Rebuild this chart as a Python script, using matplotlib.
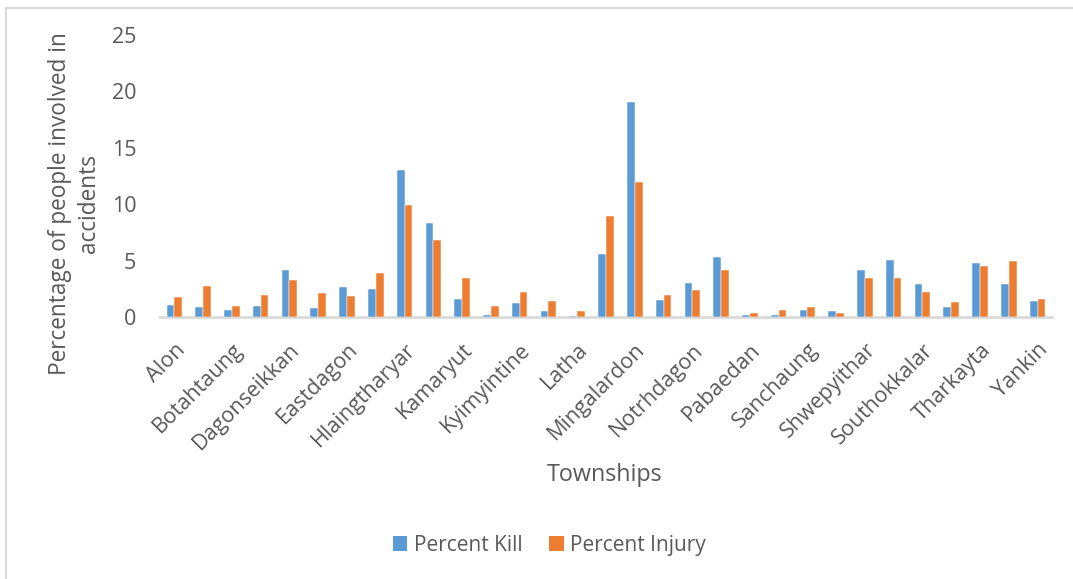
import matplotlib
matplotlib.use("Agg")
import matplotlib.pyplot as plt
from matplotlib.lines import Line2D
from matplotlib.patches import Patch
import numpy as np

townships = [
    "Alon", "Bahan", "Botahtaung", "Dagon", "Dagonseikkan", "Dawbon",
    "Eastdagon", "Hlaing", "Hlaingtharyar", "Insein", "Kamaryut",
    "Kyauktada", "Kyimyintine", "Lanmadaw", "Latha", "Mayangon",
    "Mingalardon", "Mingalartaungnyunt", "Notrhdagon", "Northokkalar",
    "Pabaedan", "Pazundaung", "Sanchaung", "Seikkan", "Shwepyithar",
    "Southdagon", "Southokkalar", "Tamwe", "Tharkayta", "Thingangyun",
    "Yankin",
]
percent_kill = [
    1.06, 0.89, 0.59, 0.95, 4.17, 0.80, 2.63, 2.45, 13.03, 8.33, 1.64,
    0.15, 1.24, 0.53, 0.09, 5.56, 19.09, 1.48, 2.98, 5.32, 0.18,
    0.18, 0.65, 0.50, 4.14, 5.02, 2.96, 0.89, 4.79, 2.90, 1.42,
]
percent_injury = [
    1.74, 2.75, 1.00, 1.92, 3.28, 2.13, 1.86, 3.87, 9.93, 6.80, 3.46,
    1.00, 2.19, 1.39, 0.53, 8.95, 12.00, 1.92, 2.36, 4.17, 0.35,
    0.59, 0.89, 0.35, 3.46, 3.49, 2.22, 1.33, 4.52, 4.93, 1.60,
]
y_ticks = [0, 5, 10, 15, 20, 25]

BLUE = "#5B9BD5"
ORANGE = "#ED7D31"
TEXT = "#595959"
GRID = "#d9d9d9"
plt.rcParams["font.family"] = ["Open Sans", "DejaVu Sans"]

fig = plt.figure(figsize=(10.73, 5.79), dpi=100)
# chart-area frame (left and top edges)
fig.add_artist(Line2D([0.0055, 0.0055], [0.0, 0.9865], transform=fig.transFigure,
                      color=GRID, linewidth=1.4))
fig.add_artist(Line2D([0.0055, 1.0], [0.9865, 0.9865], transform=fig.transFigure,
                      color=GRID, linewidth=1.4))

ax = fig.add_axes([0.1491, 0.4525, 0.8313, 0.4871])

x = np.arange(len(townships))
w = 0.27
ax.bar(x - w / 2, percent_kill, width=w, color=BLUE, edgecolor="white",
       linewidth=0.35, label="Percent Kill", zorder=2)
ax.bar(x + w / 2, percent_injury, width=w, color=ORANGE, edgecolor="white",
       linewidth=0.35, label="Percent Injury", zorder=2)

ax.set_xlim(-0.5, len(townships) - 0.5)
ax.set_ylim(0, 25)
ax.set_yticks(y_ticks)
ax.set_yticklabels([str(t) for t in y_ticks], fontsize=15.5, color=TEXT)
ax.set_xticks(x[::2])
ax.set_xticklabels(townships[::2], rotation=45, ha="right", rotation_mode="anchor",
                   fontsize=15.5, color=TEXT)
ax.tick_params(axis="both", length=0)
ax.tick_params(axis="y", pad=17)
ax.tick_params(axis="x", pad=16)
for side in ["top", "right", "left"]:
    ax.spines[side].set_visible(False)
ax.spines["bottom"].set_color(GRID)
ax.spines["bottom"].set_linewidth(2.0)
ax.spines["bottom"].set_zorder(1)

fig.text(0.0695, 0.648, "Percentage of people involved in\naccidents", rotation=90,
         ha="center", va="center", multialignment="center", fontsize=16.3,
         color=TEXT, linespacing=1.3)
fig.text(0.5638, 0.18, "Townships", ha="center", va="center", fontsize=16.8, color=TEXT)

handles = [Patch(facecolor=BLUE, edgecolor="none", label="Percent Kill"),
           Patch(facecolor=ORANGE, edgecolor="none", label="Percent Injury")]
leg = fig.legend(handles=handles, loc="center", bbox_to_anchor=(0.512, 0.058), ncol=2,
                 frameon=False, fontsize=15, handlelength=0.7, handleheight=0.7,
                 handletextpad=0.3, columnspacing=1.3)
for t in leg.get_texts():
    t.set_color(TEXT)

fig.savefig("out.png", dpi=100)
